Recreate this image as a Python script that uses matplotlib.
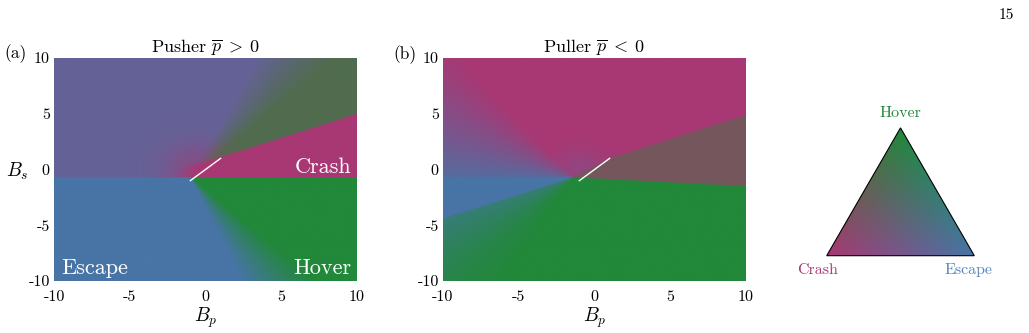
import numpy as np
import matplotlib.pyplot as plt
from matplotlib.patches import Polygon

plt.rcParams['font.family'] = 'cmr10'
plt.rcParams['mathtext.fontset'] = 'cm'
plt.rcParams['axes.unicode_minus'] = False

# outcome colours (corners of the colour triangle)
crash_rgb = np.array([168, 56, 116]) / 255
hover_rgb = np.array([34, 136, 58]) / 255
escape_rgb = np.array([72, 116, 166]) / 255

ticks = [-10, -5, 0, 5, 10]
tick_labels = ['-10', '-5', '0', '5', '10']

# white segment drawn in both panels
seg_x = [-1, 1]
seg_y = [-1, 1]

# ---- (a) pusher ----
a_centre = (-1.0, -0.7)
a_split_y = -0.7                      # escape/hover below, rest above
a_line_x = [-10.0, 1.0, 10.0]         # upper edge of the crash wedge
a_line_y = [-3.3, 1.1, 5.0]
a_low_ang = [-180, -70, -48, 0]       # angle stops below the split
a_low_hover = [0, 0, 1, 1]
a_up_ang = [0, 48, 68, 180]           # angle stops above the crash wedge
a_up_crash = [0.35, 0.35, 0.3, 0.3]
a_up_hover = [0.65, 0.65, 0.0, 0.0]
a_wedge_x = [-2.4, -0.6]              # crash wedge fades out to the left
a_wedge_m = [0.25, 1.0]
a_glow = (-0.6, 0.2, 2.1, 0.5)        # x, y, radius, strength of crash glow

# ---- (b) puller ----
b_centre = (-1.4, -0.7)
b_top_x = [-10.0, -1.4, 1.0, 10.0]    # lower edge of the crash region
b_top_y = [-0.7, -0.7, 1.0, 4.9]
b_bot_x = [-10.0, -1.4, 10.0]         # upper edge of the hover region
b_bot_y = [-4.4, -0.7, -1.5]
b_top_ang = [0, 125, 145, 165, 180]
b_top_crash = [1.0, 1.0, 0.65, 0.35, 0.15]
b_mid_crash = 0.62                    # crash share right of the centre
b_bot_ang = [-180, -156, -150, -133, -118, 0]
b_bot_escape = [0.55, 0.55, 0.45, 0.15, 0.0, 0.0]
b_glow = (-1.0, 0.2, 1.6, 0.45)

xs = np.linspace(-10, 10, 600)
ys = np.linspace(-10, 10, 450)
X, Y = np.meshgrid(xs, ys)


def to_rgb(wc, wh, we):
    return (wc[..., None] * crash_rgb + wh[..., None] * hover_rgb
            + we[..., None] * escape_rgb).clip(0, 1)


def glow(g):
    gx, gy, gr, gs = g
    return gs * np.exp(-((X - gx) ** 2 + (Y - gy) ** 2) / gr ** 2)


def pusher_field():
    th = np.degrees(np.arctan2(Y - a_centre[1], X - a_centre[0]))
    lower = Y < a_split_y
    wh = np.where(lower, np.interp(th, a_low_ang, a_low_hover),
                  np.interp(th, a_up_ang, a_up_hover))
    wc = np.where(lower, 0.0, np.interp(th, a_up_ang, a_up_crash))
    we = 1 - wh - wc
    in_wedge = (~lower) & (Y < np.interp(X, a_line_x, a_line_y))
    m = np.maximum(in_wedge * np.interp(X, a_wedge_x, a_wedge_m), glow(a_glow))
    m = m * (~lower)
    return to_rgb(wc * (1 - m) + m, wh * (1 - m), we * (1 - m))


def puller_field():
    th = np.degrees(np.arctan2(Y - b_centre[1], X - b_centre[0]))
    top = Y >= np.interp(X, b_top_x, b_top_y)
    bot = Y < np.interp(X, b_bot_x, b_bot_y)
    mid = ~top & ~bot
    wc = np.interp(th, b_top_ang, b_top_crash)
    g = glow(b_glow)
    wc = wc * (1 - g) + 0.5 * g
    we_top = 1 - wc
    we_bot = np.interp(th, b_bot_ang, b_bot_escape)
    left = X < b_centre[0]
    wc_all = np.where(top, wc, np.where(mid & ~left, b_mid_crash, 0.0))
    we_all = np.where(top, we_top,
                      np.where(bot, we_bot, np.where(left, 1.0, 0.0)))
    wh_all = 1 - wc_all - we_all
    return to_rgb(wc_all, wh_all, we_all)


fig = plt.figure(figsize=(10.29, 3.33), dpi=100)
ax_a = fig.add_axes([54 / 1029, 52 / 333, 303 / 1029, 223 / 333])
ax_b = fig.add_axes([443 / 1029, 52 / 333, 303 / 1029, 223 / 333])

for ax, img, title in [(ax_a, pusher_field(), r'Pusher $\overline{p}\;>\;0$'),
                       (ax_b, puller_field(), r'Puller $\overline{p}\;<\;0$')]:
    ax.imshow(img, origin='lower', extent=(-10, 10, -10, 10), aspect='auto',
              interpolation='bilinear')
    ax.plot(seg_x, seg_y, color='white', lw=1)
    ax.set_xlim(-10, 10)
    ax.set_ylim(-10, 10)
    ax.set_xticks(ticks, tick_labels, fontsize=11.5)
    ax.set_yticks(ticks, tick_labels, fontsize=11.5)
    ax.tick_params(axis='x', length=0, pad=7)
    ax.tick_params(axis='y', length=0, pad=3)
    for s in ax.spines.values():
        s.set_visible(False)
    ax.set_title(title, fontsize=13, pad=3)
    ax.set_xlabel(r'$B_p$', fontsize=14, labelpad=1)

ax_a.set_ylabel(r'$B_s$', fontsize=14, rotation=0, va='center')
ax_a.yaxis.set_label_coords(-0.12, 0.49)

kw = dict(color='white', fontsize=16)
ax_a.text(9.6, 0.2, 'Crash', ha='right', va='center', **kw)
ax_a.text(-9.5, -8.9, 'Escape', ha='left', va='center', **kw)
ax_a.text(9.6, -8.9, 'Hover', ha='right', va='center', **kw)

fig.text(16 / 1029, 1 - 54 / 333, '(a)', fontsize=12.5, ha='center', va='center')
fig.text(405 / 1029, 1 - 55 / 333, '(b)', fontsize=12.5, ha='center', va='center')
fig.text(1006 / 1029, 1 - 15 / 333, '15', fontsize=11, ha='center', va='center')

# colour triangle: barycentric mix of the three outcome colours
ax_t = fig.add_axes([806.7 / 1029, 48 / 333, 187.6 / 1029, 190 / 333])
h = np.sqrt(3) / 2
tri = np.array([[0, 0], [1, 0], [0.5, h]])
tx = np.linspace(0, 1, 400)
ty = np.linspace(0, h, 350)
TX, TY = np.meshgrid(tx, ty)
w_hover = TY / h
w_escape = TX - 0.5 * w_hover
w_crash = 1 - w_hover - w_escape
timg = to_rgb(w_crash.clip(0, 1), w_hover.clip(0, 1), w_escape.clip(0, 1))
im = ax_t.imshow(timg, origin='lower', extent=(0, 1, 0, h), aspect='auto',
                 interpolation='bilinear')
patch = Polygon(tri, closed=True, facecolor='none', edgecolor='black', lw=0.8)
ax_t.add_patch(patch)
im.set_clip_path(patch)
ax_t.set_xlim(-20 / 147.6, 1 + 20 / 147.6)
ax_t.set_ylim(-29.3 / 147.6, 160.7 / 147.6)
ax_t.axis('off')
ax_t.text(0.5, h + 0.1, 'Hover', color=hover_rgb, fontsize=11.5,
          ha='center', va='center')
ax_t.text(-0.06, -0.1, 'Crash', color=crash_rgb, fontsize=11.5,
          ha='center', va='center')
ax_t.text(0.96, -0.1, 'Escape', color=escape_rgb * 1.15, fontsize=11.5,
          ha='center', va='center')

fig.savefig('out.png', dpi=100)
